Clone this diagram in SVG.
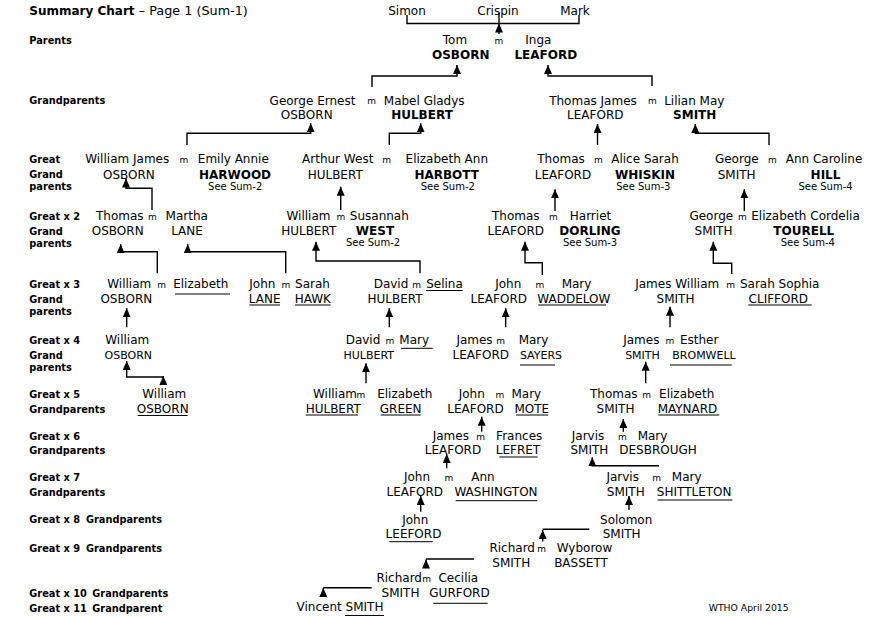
<svg xmlns="http://www.w3.org/2000/svg" width="882" height="617" viewBox="0 0 882 617">
<style>
text{font-family:"DejaVu Sans",Verdana,sans-serif;fill:#000}
.n{font-size:12px;text-anchor:middle}
.b{font-weight:bold}
.s11{font-size:11px}
.see{font-size:10px;text-anchor:middle}
.m{font-size:9px;text-anchor:middle}
.lbl{font-size:9.8px;font-weight:bold}
.ul{stroke:#000;stroke-width:1}
.c{fill:none;stroke:#000;stroke-width:1.4;marker-end:url(#ah)}
.ln{fill:none;stroke:#000;stroke-width:1.4}
</style>
<defs>
<marker id="ah" markerUnits="userSpaceOnUse" markerWidth="10" markerHeight="8" refX="9" refY="4" orient="auto"><path d="M0,0 L9,4 L0,8 z" fill="#000"/></marker>
</defs>
<rect width="882" height="617" fill="#fff"/>
<g id="title"><text x="29.3" y="15" font-size="12px"><tspan font-weight="bold">Summary Chart</tspan><tspan font-size="12.8px"> – Page 1 (Sum-1)</tspan></text></g>
<g id="labels">
<text class="lbl" x="29.3" y="44">Parents</text>
<text class="lbl" x="29.3" y="104">Grandparents</text>
<text class="lbl" x="29.3" y="163">Great</text><text class="lbl" x="29.3" y="178">Grand</text><text class="lbl" x="29.3" y="190">parents</text>
<text class="lbl" x="29.3" y="220">Great x 2</text><text class="lbl" x="29.3" y="235">Grand</text><text class="lbl" x="29.3" y="246.5">parents</text>
<text class="lbl" x="29.3" y="288">Great x 3</text><text class="lbl" x="29.3" y="303">Grand</text><text class="lbl" x="29.3" y="315">parents</text>
<text class="lbl" x="29.3" y="344">Great x 4</text><text class="lbl" x="29.3" y="359">Grand</text><text class="lbl" x="29.3" y="371">parents</text>
<text class="lbl" x="29.3" y="398">Great x 5</text><text class="lbl" x="29.3" y="413">Grandparents</text>
<text class="lbl" x="29.3" y="440">Great x 6</text><text class="lbl" x="29.3" y="454">Grandparents</text>
<text class="lbl" x="29.3" y="481">Great x 7</text><text class="lbl" x="29.3" y="495.5">Grandparents</text>
<text class="lbl" x="29.3" y="523">Great x 8</text><text class="lbl" x="86" y="523">Grandparents</text>
<text class="lbl" x="29.3" y="552">Great x 9</text><text class="lbl" x="86" y="552">Grandparents</text>
<text class="lbl" x="29.3" y="597">Great x 10</text><text class="lbl" x="92.3" y="597">Grandparents</text>
<text class="lbl" x="29.3" y="612">Great x 11</text><text class="lbl" x="92.3" y="612">Grandparent</text>
</g>
<g id="connectors">
<path class="ln" d="M407,15 V23.5 H579 V15"/>
<path class="ln" d="M499,13 V23.5"/>
<path class="c" d="M499,34 V23.5"/>
<path class="c" d="M372,87 V76 H457 V65"/>
<path class="c" d="M652,86 V76 H548 V65"/>
<path class="c" d="M187,145 V133.3 H310.7 V123.3"/>
<path class="c" d="M389.3,145 V133.3 H420.7 V123.3"/>
<path class="c" d="M597.5,145 V124"/>
<path class="c" d="M769,145 V133.3 H695.3 V124"/>
<path class="c" d="M152,210 V188.3 H126 V178.5"/>
<path class="c" d="M340.7,210 V186.7"/>
<path class="c" d="M555,211 V189.3"/>
<path class="c" d="M744.3,211 V189.3"/>
<path class="c" d="M157.3,273.3 V251.7 H120.7 V244.3"/>
<path class="c" d="M285.7,273.3 V251.7 H187.7 V244.3"/>
<path class="c" d="M420,273.3 V261 H316 V241.7"/>
<path class="c" d="M542.3,275 V262.7 H525 V241.7"/>
<path class="c" d="M731.7,274 V263.3 H713.3 V241.7"/>
<path class="c" d="M126.7,327.3 V308.3"/>
<path class="c" d="M389.3,327.3 V308.3"/>
<path class="c" d="M505.7,327.3 V308.3"/>
<path class="c" d="M670,327.3 V306.7"/>
<path class="c" d="M163.3,377 H126.7 V361"/>
<path class="c" d="M163.3,385 V376"/>
<path class="c" d="M366,383.3 V363.3"/>
<path class="c" d="M645.7,383.3 V361.7"/>
<path class="c" d="M481.7,431.7 V416.7"/>
<path class="c" d="M623.3,431.7 V419"/>
<path class="c" d="M446.7,468.3 V454"/>
<path class="c" d="M659,465.7 H592.3 V457.3"/>
<path class="c" d="M420.7,511.7 V496"/>
<path class="c" d="M629,510 V496"/>
<path class="ln" d="M589.3,529.3 H542.7"/>
<path class="c" d="M542.7,541.5 V530"/>
<path class="ln" d="M474,559 H426"/>
<path class="c" d="M426,568.3 V559.5"/>
<path class="ln" d="M371.7,587.7 H323.3"/>
<path class="c" d="M323.3,595 V588"/>
</g>
<g id="marriages">
<text class="m" x="499" y="44">m</text>
<text class="m" x="371.7" y="104">m</text><text class="m" x="652.3" y="104">m</text>
<text class="m" x="184" y="163">m</text><text class="m" x="386.7" y="163">m</text><text class="m" x="598.3" y="163">m</text><text class="m" x="772.3" y="163">m</text>
<text class="m" x="152.3" y="220">m</text><text class="m" x="341" y="220">m</text><text class="m" x="553.3" y="220">m</text><text class="m" x="742.3" y="220">m</text>
<text class="m" x="161.7" y="288">m</text><text class="m" x="286" y="288">m</text><text class="m" x="416.7" y="288">m</text><text class="m" x="540" y="288">m</text><text class="m" x="730.7" y="288">m</text>
<text class="m" x="390" y="344">m</text><text class="m" x="500.7" y="344">m</text><text class="m" x="670" y="344">m</text>
<text class="m" x="361" y="398">m</text><text class="m" x="500" y="398">m</text><text class="m" x="646.7" y="398">m</text>
<text class="m" x="480.7" y="440">m</text><text class="m" x="622.3" y="440">m</text>
<text class="m" x="449" y="481">m</text><text class="m" x="656.7" y="481">m</text>
<text class="m" x="541.7" y="552">m</text>
<text class="m" x="426.7" y="582">m</text>
</g>
<g id="simon"><text class="n" x="407" y="15">Simon</text></g>
<g id="crispin"><text class="n" x="498" y="15">Crispin</text></g>
<g id="mark"><text class="n" x="575" y="15">Mark</text></g>
<g id="tom-osborn"><text class="n" x="455" y="44">Tom</text><text class="n b" x="460.7" y="59">OSBORN</text></g>
<g id="inga-leaford"><text class="n" x="538.3" y="44">Inga</text><text class="n b" x="545.8" y="59">LEAFORD</text></g>
<g id="george-ernest-osborn"><text class="n" x="312.5" y="104.5">George Ernest</text><text class="n" x="306.7" y="119">OSBORN</text></g>
<g id="mabel-gladys-hulbert"><text class="n" x="424.2" y="104.5">Mabel Gladys</text><text class="n b" x="422" y="119">HULBERT</text></g>
<g id="thomas-james-leaford"><text class="n" x="593" y="104.5">Thomas James</text><text class="n" x="595.3" y="119">LEAFORD</text></g>
<g id="lilian-may-smith"><text class="n" x="694.3" y="104.5">Lilian May</text><text class="n b" x="694.7" y="119">SMITH</text></g>
<g id="william-james-osborn"><text class="n" x="127.2" y="163">William James</text><text class="n" x="128.9" y="178.5">OSBORN</text></g>
<g id="emily-annie-harwood"><text class="n" x="233.3" y="163">Emily Annie</text><text class="n b" x="235" y="178.5">HARWOOD</text><text class="see" x="235.2" y="190.3">See Sum-2</text></g>
<g id="arthur-west-hulbert"><text class="n" x="337.7" y="163">Arthur West</text><text class="n" x="335.2" y="178.5">HULBERT</text></g>
<g id="elizabeth-ann-harbott"><text class="n" x="446.8" y="163">Elizabeth Ann</text><text class="n b" x="446.7" y="178.5">HARBOTT</text><text class="see" x="447.8" y="190.3">See Sum-2</text></g>
<g id="thomas-leaford-g"><text class="n" x="561" y="163">Thomas</text><text class="n" x="563" y="178.5">LEAFORD</text></g>
<g id="alice-sarah-whiskin"><text class="n" x="645" y="163">Alice Sarah</text><text class="n b" x="645" y="178.5">WHISKIN</text><text class="see" x="643.3" y="190.3">See Sum-3</text></g>
<g id="george-smith-g"><text class="n" x="736.8" y="163">George</text><text class="n" x="736.7" y="178.5">SMITH</text></g>
<g id="ann-caroline-hill"><text class="n" x="824" y="163">Ann Caroline</text><text class="n b" x="825.5" y="178.5">HILL</text><text class="see" x="825.5" y="190.3">See Sum-4</text></g>
<g id="thomas-osborn-g2"><text class="n" x="119.8" y="220">Thomas</text><text class="n" x="117.7" y="235">OSBORN</text></g>
<g id="martha-lane"><text class="n" x="186.7" y="220">Martha</text><text class="n" x="187" y="235">LANE</text></g>
<g id="william-hulbert-g2"><text class="n" x="308.5" y="220">William</text><text class="n" x="308.7" y="235">HULBERT</text></g>
<g id="susannah-west"><text class="n" x="379.3" y="220">Susannah</text><text class="n b" x="375" y="235">WEST</text><text class="see" x="373" y="246">See Sum-2</text></g>
<g id="thomas-leaford-g2"><text class="n" x="515.8" y="220">Thomas</text><text class="n" x="515.8" y="235">LEAFORD</text></g>
<g id="harriet-dorling"><text class="n" x="590.5" y="220">Harriet</text><text class="n b" x="590" y="235">DORLING</text><text class="see" x="590" y="246">See Sum-3</text></g>
<g id="george-smith-g2"><text class="n" x="711.3" y="220">George</text><text class="n" x="713.5" y="235">SMITH</text></g>
<g id="elizabeth-cordelia-tourell"><text class="n" x="805.5" y="220">Elizabeth Cordelia</text><text class="n b" x="803.8" y="235">TOURELL</text><text class="see" x="807.8" y="246">See Sum-4</text></g>
<g id="william-osborn-g3"><text class="n" x="129.2" y="288">William</text><text class="n" x="126.3" y="303">OSBORN</text></g>
<g id="elizabeth-g3"><text class="n" x="200.8" y="288">Elizabeth</text><line class="ul" x1="175" y1="294" x2="230" y2="294"/></g>
<g id="john-lane"><text class="n" x="262.3" y="288">John</text><text class="n" x="264.7" y="303">LANE</text><line class="ul" x1="249.3" y1="305" x2="280" y2="305"/></g>
<g id="sarah-hawk"><text class="n" x="312.5" y="288">Sarah</text><text class="n" x="312.8" y="303">HAWK</text><line class="ul" x1="295" y1="305" x2="330.7" y2="305"/></g>
<g id="david-hulbert-g3"><text class="n" x="391" y="288">David</text><text class="n" x="395" y="303">HULBERT</text></g>
<g id="selina"><text class="n" x="444.5" y="288">Selina</text><line class="ul" x1="426" y1="290.5" x2="462.7" y2="290.5"/></g>
<g id="john-leaford-g3"><text class="n" x="508.2" y="288">John</text><text class="n" x="498.8" y="303">LEAFORD</text></g>
<g id="mary-waddelow"><text class="n" x="576.5" y="288">Mary</text><text class="n" x="573.8" y="303">WADDELOW</text><line class="ul" x1="538.3" y1="305" x2="606" y2="305"/></g>
<g id="james-william-smith"><text class="n" x="677.2" y="288">James William</text><text class="n" x="675.5" y="303">SMITH</text></g>
<g id="sarah-sophia-clifford"><text class="n" x="779.7" y="288">Sarah Sophia</text><text class="n" x="778.3" y="303">CLIFFORD</text><line class="ul" x1="748.3" y1="305" x2="811.7" y2="305"/></g>
<g id="william-osborn-g4"><text class="n" x="127.2" y="344">William</text><text class="n s11" x="128.3" y="358.5">OSBORN</text></g>
<g id="david-hulbert-g4"><text class="n" x="363" y="344">David</text><text class="n s11" x="368.8" y="358.5">HULBERT</text></g>
<g id="mary-g4"><text class="n" x="414.2" y="344">Mary</text><line class="ul" x1="401" y1="348.3" x2="432.7" y2="348.3"/></g>
<g id="james-leaford-g4"><text class="n" x="474.5" y="344">James</text><text class="n" x="480.8" y="358.5">LEAFORD</text></g>
<g id="mary-sayers"><text class="n" x="533.5" y="344">Mary</text><text class="n s11" x="541" y="358.5">SAYERS</text><line class="ul" x1="520" y1="365" x2="555" y2="365"/></g>
<g id="james-smith-g4"><text class="n" x="641.3" y="344">James</text><text class="n s11" x="642.5" y="358.5">SMITH</text></g>
<g id="esther-bromwell"><text class="n" x="699.2" y="344">Esther</text><text class="n s11" x="704" y="358.5">BROMWELL</text><line class="ul" x1="670" y1="365" x2="731.7" y2="365"/></g>
<g id="william-osborn-g5"><text class="n" x="164.2" y="398">William</text><text class="n" x="162.7" y="413">OSBORN</text><line class="ul" x1="137.7" y1="415.5" x2="187.7" y2="415.5"/></g>
<g id="william-hulbert-g5"><text class="n" x="335" y="398">William</text><text class="n" x="333.2" y="413">HULBERT</text><line class="ul" x1="305.7" y1="415" x2="358" y2="415"/></g>
<g id="elizabeth-green"><text class="n" x="404.8" y="398">Elizabeth</text><text class="n" x="400.7" y="413">GREEN</text><line class="ul" x1="380.7" y1="415" x2="420.7" y2="415"/></g>
<g id="john-leaford-g5"><text class="n" x="471.7" y="398">John</text><text class="n" x="475.5" y="413">LEAFORD</text></g>
<g id="mary-mote"><text class="n" x="526.3" y="398">Mary</text><text class="n" x="531.8" y="413">MOTE</text><line class="ul" x1="516" y1="415" x2="548.3" y2="415"/></g>
<g id="thomas-smith-g5"><text class="n" x="613.8" y="398">Thomas</text><text class="n" x="615.5" y="413">SMITH</text></g>
<g id="elizabeth-maynard"><text class="n" x="686.7" y="398">Elizabeth</text><text class="n" x="687.5" y="413">MAYNARD</text><line class="ul" x1="658.3" y1="415" x2="719.3" y2="415"/></g>
<g id="james-leaford-g6"><text class="n" x="450.8" y="440">James</text><text class="n" x="453" y="454">LEAFORD</text></g>
<g id="frances-lefret"><text class="n" x="519.2" y="440">Frances</text><text class="n" x="518" y="454">LEFRET</text><line class="ul" x1="499.3" y1="457" x2="537.7" y2="457"/></g>
<g id="jarvis-smith-g6"><text class="n" x="588" y="440">Jarvis</text><text class="n" x="589.4" y="454">SMITH</text></g>
<g id="mary-desbrough"><text class="n" x="652.5" y="440">Mary</text><text class="n" x="658" y="454">DESBROUGH</text></g>
<g id="john-leaford-g7"><text class="n" x="417" y="481">John</text><text class="n" x="414.8" y="496">LEAFORD</text></g>
<g id="ann-washington"><text class="n" x="483" y="481">Ann</text><text class="n" x="496" y="496">WASHINGTON</text><line class="ul" x1="455.7" y1="500.7" x2="537.3" y2="500.7"/></g>
<g id="jarvis-smith-g7"><text class="n" x="622.7" y="481">Jarvis</text><text class="n" x="625.8" y="496">SMITH</text></g>
<g id="mary-shittleton"><text class="n" x="686.7" y="481">Mary</text><text class="n" x="694.2" y="496">SHITTLETON</text><line class="ul" x1="657.7" y1="500" x2="732.3" y2="500"/></g>
<g id="john-leeford"><text class="n" x="415.2" y="523.5">John</text><text class="n" x="413.5" y="538">LEEFORD</text><line class="ul" x1="389.3" y1="541.7" x2="432.7" y2="541.7"/></g>
<g id="solomon-smith"><text class="n" x="626.2" y="523.5">Solomon</text><text class="n" x="621.7" y="538">SMITH</text></g>
<g id="richard-smith-g9"><text class="n" x="512.2" y="552">Richard</text><text class="n" x="511.3" y="567">SMITH</text></g>
<g id="wyborow-bassett"><text class="n" x="584.5" y="552">Wyborow</text><text class="n" x="581" y="567">BASSETT</text></g>
<g id="richard-smith-g10"><text class="n" x="399.2" y="582">Richard</text><text class="n" x="400.5" y="597">SMITH</text></g>
<g id="cecilia-gurford"><text class="n" x="458.3" y="582">Cecilia</text><text class="n" x="459.5" y="597">GURFORD</text><line class="ul" x1="433.3" y1="603.3" x2="487.7" y2="603.3"/></g>
<g id="vincent-smith"><text class="n" x="340" y="611">Vincent SMITH</text><line class="ul" x1="345" y1="615.5" x2="384" y2="615.5"/></g>
<g id="footer"><text x="748.7" y="611" font-size="9.3px" text-anchor="middle">WTHO April 2015</text></g>
</svg>
